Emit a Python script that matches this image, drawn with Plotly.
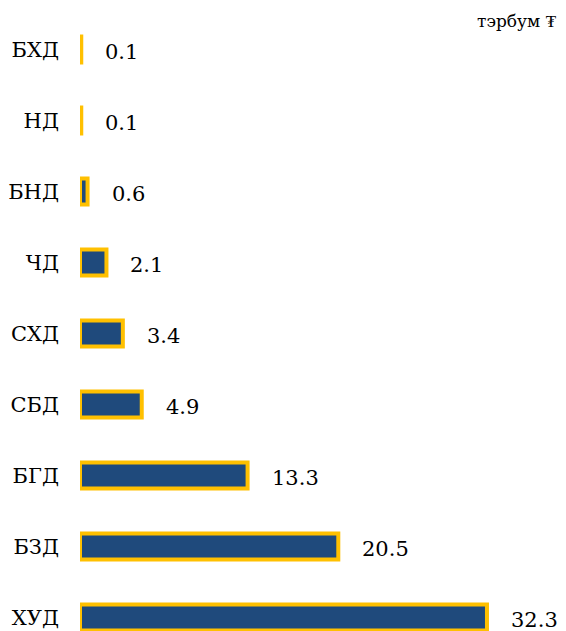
import plotly.graph_objects as go

# Categories listed bottom-to-top, with their values (тэрбум ₮)
categories = ["ХУД", "БЗД", "БГД", "СБД", "СХД", "ЧД", "БНД", "НД", "БХД"]
values = [32.3, 20.5, 13.3, 4.9, 3.4, 2.1, 0.6, 0.1, 0.1]
value_labels = ["32.3", "20.5", "13.3", "4.9", "3.4", "2.1", "0.6", "0.1", "0.1"]
unit_label = "тэрбум ₮"

FILL = "#1F4A7C"
EDGE = "#FFC000"
FONT = "DejaVu Serif"

fig = go.Figure(
    go.Bar(
        x=values,
        y=categories,
        orientation="h",
        width=0.366,
        marker=dict(color=FILL, line=dict(color=EDGE, width=4)),
        hoverinfo="skip",
    )
)

# value labels placed just past the end of each bar
for cat, val, lab in zip(categories, values, value_labels):
    fig.add_annotation(
        x=val, y=cat, xref="x", yref="y",
        text=lab, showarrow=False,
        xanchor="left", yanchor="middle",
        xshift=22, yshift=-2,
        font=dict(family=FONT, size=21, color="#000000"),
    )

fig.add_annotation(
    x=1, y=1, xref="paper", yref="paper",
    text=unit_label, showarrow=False,
    xanchor="right", yanchor="middle",
    xshift=-7, yshift=-7,
    font=dict(family=FONT, size=17, color="#000000"),
)

fig.update_layout(
    width=566, height=631,
    margin=dict(l=80, r=0, t=14, b=0),
    paper_bgcolor="white", plot_bgcolor="white",
    showlegend=False,
    font=dict(family=FONT),
    xaxis=dict(
        range=[0, 486 / 12.6],
        visible=False,
        fixedrange=True,
    ),
    yaxis=dict(
        type="category",
        categoryorder="array",
        categoryarray=categories,
        range=[-0.19, 8.5],
        showgrid=False, zeroline=False, showline=False,
        ticks="",
        ticklabelstandoff=20,
        tickfont=dict(family=FONT, size=21, color="#000000"),
        fixedrange=True,
    ),
)

fig.write_html("out.html")
